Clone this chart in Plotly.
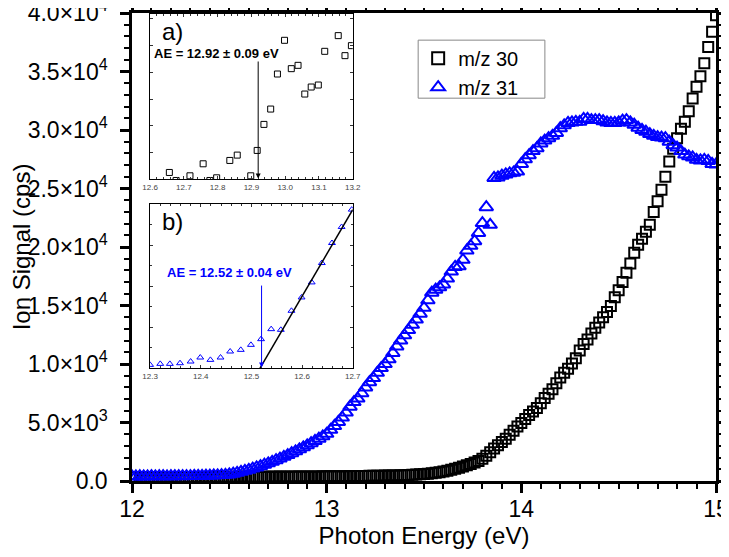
import plotly.graph_objects as go

# photon energy grid (eV), shared by both mass channels
energy = [
    12.00, 12.02, 12.04, 12.06, 12.08, 12.10, 12.12, 12.14, 12.16, 12.18,
    12.20, 12.22, 12.24, 12.26, 12.28, 12.30, 12.32, 12.34, 12.36, 12.38,
    12.40, 12.42, 12.44, 12.46, 12.48, 12.50, 12.52, 12.54, 12.56, 12.58,
    12.60, 12.62, 12.64, 12.66, 12.68, 12.70, 12.72, 12.74, 12.76, 12.78,
    12.80, 12.82, 12.84, 12.86, 12.88, 12.90, 12.92, 12.94, 12.96, 12.98,
    13.00, 13.02, 13.04, 13.06, 13.08, 13.10, 13.12, 13.14, 13.16, 13.18,
    13.20, 13.22, 13.24, 13.26, 13.28, 13.30, 13.32, 13.34, 13.36, 13.38,
    13.40, 13.42, 13.44, 13.46, 13.48, 13.50, 13.52, 13.54, 13.56, 13.58,
    13.60, 13.62, 13.64, 13.66, 13.68, 13.70, 13.72, 13.74, 13.76, 13.78,
    13.80, 13.82, 13.84, 13.86, 13.88, 13.90, 13.92, 13.94, 13.96, 13.98,
    14.00, 14.02, 14.04, 14.06, 14.08, 14.10, 14.12, 14.14, 14.16, 14.18,
    14.20, 14.22, 14.24, 14.26, 14.28, 14.30, 14.32, 14.34, 14.36, 14.38,
    14.40, 14.42, 14.44, 14.46, 14.48, 14.50, 14.52, 14.54, 14.56, 14.58,
    14.60, 14.62, 14.64, 14.66, 14.68, 14.70, 14.72, 14.74, 14.76, 14.78,
    14.80, 14.82, 14.84, 14.86, 14.88, 14.90, 14.92, 14.94, 14.96, 14.98,
    15.00,
]

mz30 = [
    330, 320, 335, 325, 330, 340, 330, 335, 325, 340,
    335, 330, 340, 345, 335, 340, 345, 340, 350, 345,
    350, 350, 355, 345, 355, 360, 350, 355, 360, 365,
    355, 360, 370, 365, 370, 360, 375, 370, 375, 380,
    370, 380, 385, 380, 390, 385, 390, 395, 390, 400,
    400, 405, 400, 410, 415, 410, 420, 425, 420, 430,
    435, 440, 440, 450, 455, 460, 465, 475, 480, 490,
    500, 515, 530, 550, 570, 595, 625, 660, 700, 750,
    810, 880, 960, 1050, 1140, 1240, 1350, 1460, 1580, 1720,
    1900, 2150, 2450, 2780, 3060, 3330, 3620, 3960, 4300, 4650,
    4950, 5300, 5640, 5950, 6240, 6650, 7090, 7450, 7850, 8350,
    8850, 9250, 9600, 10050, 10500, 11150, 11700, 12100, 12600, 13100,
    13550, 14000, 14450, 14950, 15700, 16300, 17000, 17800, 18600, 19500,
    20200, 20700, 21300, 21900, 23000, 23900, 24900, 26000, 27300, 28400,
    29300, 30100, 30700, 31600, 32700, 33700, 34600, 35700, 37100, 38400,
    39800,
]

mz31 = [
    400, 390, 405, 395, 400, 410, 400, 405, 410, 400,
    415, 410, 420, 415, 425, 420, 430, 435, 440, 450,
    460, 470, 490, 505, 530, 560, 620, 700, 780, 870,
    960, 1060, 1160, 1270, 1390, 1510, 1640, 1780, 1920, 2070,
    2220, 2380, 2540, 2710, 2880, 3050, 3230, 3420, 3620, 3820,
    4030, 4370, 4700, 5050, 5420, 5850, 6350, 6750, 7050, 7500,
    8000, 8450, 8800, 9250, 9650, 10000, 10400, 10950, 11500, 12000,
    12450, 12900, 13350, 13800, 14300, 14800, 15450, 16100, 16350, 16550,
    16800, 17300, 17900, 18300, 18350, 18900, 19700, 20100, 20500, 21200,
    22050, 23400, 21900, 25900, 25950, 26100, 26200, 26300, 26350, 26450,
    27100, 27500, 27850, 28200, 28450, 28850, 29100, 29300, 29500, 29750,
    30150, 30400, 30600, 30650, 30700, 30700, 30950, 30950, 30850, 30850,
    30850, 30750, 30650, 30600, 30600, 30650, 30800, 30850, 30650, 30450,
    30200, 30000, 29850, 29650, 29500, 29400, 29350, 29300, 29000, 28700,
    28500, 28200, 27900, 27750, 27650, 27450, 27400, 27450, 27350, 27100,
    27050,
]

# inset a) : m/z 30 threshold region (arbitrary units)
inset_a_x = [12.657, 12.677, 12.718, 12.757, 12.777, 12.797, 12.836, 12.858,
             12.898, 12.917, 12.937, 12.957, 12.977, 12.998, 13.018, 13.038,
             13.058, 13.077, 13.098, 13.117, 13.157, 13.177, 13.196]
inset_a_y = [20, -4, 10, 46, -4, 4, 56, 72, 10, 86, 164, 210, 315, 416, 331,
             341, 255, 276, 282, 383, 430, 370, 400]

# inset b) : m/z 31 threshold region (arbitrary units)
inset_b_x = [12.300, 12.320, 12.339, 12.359, 12.380, 12.399, 12.419, 12.439,
             12.458, 12.479, 12.499, 12.519, 12.539, 12.558, 12.579, 12.599,
             12.619, 12.639, 12.659, 12.678, 12.698]
inset_b_y = [10, 13, 13, 15, 20, 32, 25, 32, 50, 55, 70, 87, 117, 115, 172,
             212, 257, 315, 375, 423, 475]
fit_b_x = [12.517, 12.700]
fit_b_y = [0, 475]

y_ticks = [0, 5000, 10000, 15000, 20000, 25000, 30000, 35000, 40000]
y_labels = ["0.0", "5.0×10<sup>3</sup>", "1.0×10<sup>4</sup>", "1.5×10<sup>4</sup>",
            "2.0×10<sup>4</sup>", "2.5×10<sup>4</sup>", "3.0×10<sup>4</sup>",
            "3.5×10<sup>4</sup>", "4.0×10<sup>4</sup>"]

FONT = "Arial, Liberation Sans, sans-serif"
BLUE = "#0000ff"

fig = go.Figure()

fig.add_trace(go.Scatter(
    x=energy, y=mz30, mode="markers", name="m/z 30",
    marker=dict(symbol="square-open", size=10, color="black",
                line=dict(width=2, color="black"))))
fig.add_trace(go.Scatter(
    x=energy, y=mz31, mode="markers", name="m/z 31",
    marker=dict(symbol="triangle-up-open", size=12, color=BLUE,
                line=dict(width=2, color=BLUE))))

# insets
fig.add_trace(go.Scatter(
    x=inset_a_x, y=inset_a_y, mode="markers", showlegend=False,
    xaxis="x2", yaxis="y2",
    marker=dict(symbol="square-open", size=6, color="black",
                line=dict(width=1, color="black"))))
fig.add_trace(go.Scatter(
    x=inset_b_x, y=inset_b_y, mode="markers", showlegend=False,
    xaxis="x3", yaxis="y3",
    marker=dict(symbol="triangle-up-open", size=6, color=BLUE,
                line=dict(width=1, color=BLUE))))
fig.add_trace(go.Scatter(
    x=fit_b_x, y=fit_b_y, mode="lines", showlegend=False,
    xaxis="x3", yaxis="y3", line=dict(color="black", width=1.5)))

main_axis = dict(showline=True, linewidth=2.5, linecolor="black", mirror="allticks",
                 ticks="outside", ticklen=9, tickwidth=2.5, tickcolor="black",
                 showgrid=False, zeroline=False, automargin=False,
                 ticklabeloverflow="allow",
                 tickfont=dict(size=23, color="black", family=FONT))
inset_axis = dict(showline=True, linewidth=1, linecolor="black", mirror="allticks",
                  ticks="inside", ticklen=3, tickwidth=1, tickcolor="#333",
                  showgrid=False, zeroline=False, automargin=False,
                  tickfont=dict(size=8, color="#444", family=FONT))

# the page body adds an 8 px offset, so the figure is shifted to compensate
fig.update_layout(
    width=729, height=541,
    margin=dict(l=124, r=21, t=5, b=68),
    paper_bgcolor="white", plot_bgcolor="white",
    font=dict(family=FONT, color="black"),
    xaxis=dict(main_axis, range=[12, 15], dtick=1, tick0=12, ticklabelstandoff=-3,
               minor=dict(dtick=0.1, ticklen=5, tickwidth=2, ticks="outside", tickcolor="black"),
               title=dict(text="Photon Energy (eV)", font=dict(size=24), standoff=0)),
    yaxis=dict(main_axis, range=[0, 40000], tickvals=y_ticks, ticktext=y_labels,
               ticklabelstandoff=8,
               minor=dict(dtick=1000, ticklen=5, tickwidth=2, ticks="outside", tickcolor="black"),
               title=dict(text="Ion Signal (cps)", font=dict(size=24), standoff=0)),
    xaxis2=dict(inset_axis, domain=[0.031, 0.378], anchor="y2", range=[12.6, 13.2],
                dtick=0.1, tick0=12.6, tickformat=".1f",
                minor=dict(dtick=0.02, ticklen=2, ticks="inside")),
    yaxis2=dict(inset_axis, domain=[0.645, 0.998], anchor="x2", range=[0, 495],
                dtick=80, showticklabels=False),
    xaxis3=dict(inset_axis, domain=[0.031, 0.378], anchor="y3", range=[12.3, 12.7],
                dtick=0.1, tick0=12.3, tickformat=".1f",
                minor=dict(dtick=0.02, ticklen=2, ticks="inside")),
    yaxis3=dict(inset_axis, domain=[0.241, 0.592], anchor="x3", range=[0, 492],
                dtick=123, minor=dict(dtick=61.5, ticklen=2, ticks="inside"),
                showticklabels=False),
    legend=dict(x=0.49, y=0.945, xanchor="left", yanchor="top",
                bgcolor="rgba(0,0,0,0)", borderwidth=0,
                font=dict(size=20, family=FONT), itemsizing="constant",
                tracegroupgap=0),
    # legend frame
    shapes=[dict(type="rect", xref="paper", yref="paper",
                 x0=0.49, x1=0.707, y0=0.818, y1=0.942,
                 line=dict(color="#888", width=1), fillcolor="rgba(0,0,0,0)")],
    annotations=[
        dict(xref="x2", yref="y2", x=12.665, y=442, text="a)", showarrow=False,
             font=dict(size=24, family=FONT)),
        dict(xref="x2", yref="y2", x=12.798, y=377, text="<b>AE = 12.92 ± 0.09 eV</b>",
             showarrow=False, font=dict(size=13, family=FONT)),
        dict(xref="x2", yref="y2", x=12.92, y=2, axref="x2", ayref="y2",
             ax=12.92, ay=357, text="", showarrow=True, arrowhead=2,
             arrowsize=1, arrowwidth=1, arrowcolor="black"),
        dict(xref="x3", yref="y3", x=12.345, y=440, text="b)", showarrow=False,
             font=dict(size=24, family=FONT)),
        dict(xref="x3", yref="y3", x=12.457, y=287, text="<b>AE = 12.52 ± 0.04 eV</b>",
             showarrow=False, font=dict(size=13, color=BLUE, family=FONT)),
        dict(xref="x3", yref="y3", x=12.52, y=2, axref="x3", ayref="y3",
             ax=12.52, ay=252, text="", showarrow=True, arrowhead=2,
             arrowsize=1, arrowwidth=1, arrowcolor=BLUE),
    ],
)

fig.write_html("out.html")
